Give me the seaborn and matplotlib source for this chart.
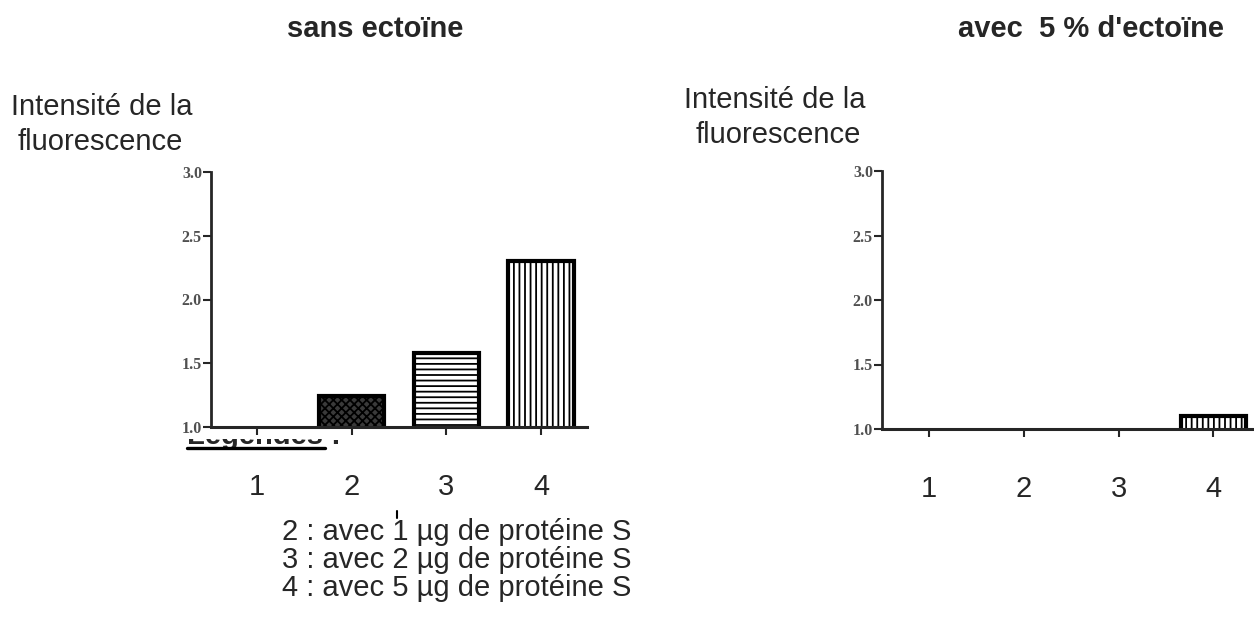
import pandas as pd
import matplotlib.pyplot as plt
from matplotlib.lines import Line2D
from matplotlib.patches import Rectangle
import seaborn as sns

sns.set_style("ticks")
plt.rcParams['font.family'] = ['Liberation Sans', 'DejaVu Sans']
plt.rcParams['hatch.linewidth'] = 1.3

echantillons = ['1', '2', '3', '4']
sans_ectoine = [1.0, 1.24, 1.58, 2.30]
avec_ectoine = [1.0, 1.0, 1.0, 1.10]
motifs_sans = ['', 'xxxx', '---', '|||']
motifs_avec = ['', '', '', '|||']
fonds_sans = ['white', '#3a3a3a', 'white', 'white']
fonds_avec = ['white', 'white', 'white', 'white']
graduations = [1.0, 1.5, 2.0, 2.5, 3.0]
titres = ['sans ectoïne', "avec  5 % d'ectoïne"]
ylabel = ['Intensité de la', 'fluorescence']
legendes = ['2 : avec 1 µg de protéine S',
            '3 : avec 2 µg de protéine S',
            '4 : avec 5 µg de protéine S']

W, H = 1254, 617
fig = plt.figure(figsize=(W / 100, H / 100), dpi=100)


def box(x0, y0, x1, y1):
    return [x0 / W, 1 - y1 / H, (x1 - x0) / W, (y1 - y0) / H]


def graphe(ax, valeurs, motifs, fonds, xlim):
    df = pd.DataFrame({'ech': echantillons, 'val': valeurs})
    sns.barplot(data=df, x='ech', y='val', ax=ax, color='white', saturation=1,
                edgecolor='black', linewidth=3, width=0.69)
    for p, h, f, v in zip(ax.patches, motifs, fonds, valeurs):
        p.set_hatch(h)
        p.set_facecolor(f)
        if v <= 1.0:
            p.set_edgecolor('none')
    ax.set_ylim(1, 3)
    ax.set_xlim(*xlim)
    ax.set_yticks(graduations)
    ax.set_yticklabels([f'{g:.1f}' for g in graduations], family='Liberation Serif',
                       fontweight='bold', fontsize=11.5, color='#505050')
    ax.tick_params(axis='y', length=6, width=1.5, pad=0.5)
    ax.tick_params(axis='x', length=6, width=1.5, pad=27, labelsize=21)
    ax.set_xlabel('')
    ax.set_ylabel('')
    sns.despine(ax=ax)
    ax.spines['left'].set_linewidth(2)
    ax.spines['bottom'].set_linewidth(2.2)
    ax.set_zorder(5)


axL = fig.add_axes(box(211, 172, 587, 427))
graphe(axL, sans_ectoine, motifs_sans, fonds_sans, (-0.486, 3.485))
axR = fig.add_axes(box(882, 171, 1254, 429))
graphe(axR, avec_ectoine, motifs_avec, fonds_avec, (-0.496, 3.43))

fig.text(287 / W, 1 - 37 / H, titres[0], fontsize=21, fontweight='bold', va='baseline')
fig.text(958 / W, 1 - 37 / H, titres[1], fontsize=21, fontweight='bold', va='baseline')

fig.text(102 / W, 1 - 115 / H, ylabel[0], fontsize=21, ha='center', va='baseline')
fig.text(100 / W, 1 - 150 / H, ylabel[1], fontsize=21, ha='center', va='baseline')
fig.text(775 / W, 1 - 108 / H, ylabel[0], fontsize=21, ha='center', va='baseline')
fig.text(778 / W, 1 - 143 / H, ylabel[1], fontsize=21, ha='center', va='baseline')

# "Légendes :" à moitié caché sous le graphique
fig.text(187 / W, 1 - 444 / H, 'Légendes :', fontsize=21, fontweight='bold',
         va='baseline', zorder=1)
fig.add_artist(Line2D([187 / W, 325 / W], [1 - 448 / H] * 2, lw=2.4, color='black',
                      transform=fig.transFigure, zorder=1.5))
fig.add_artist(Rectangle((150 / W, 1 - 439 / H), 450 / W, 139 / H, transform=fig.transFigure,
                         facecolor='white', edgecolor='none', zorder=2))
fig.add_artist(Line2D([397 / W] * 2, [1 - 511 / H, 1 - 518 / H], lw=1.5, color='black',
                      transform=fig.transFigure))

for i, t in enumerate(legendes):
    fig.text(282 / W, 1 - (540 + 28 * i) / H, t, fontsize=21, va='baseline')

fig.savefig('out.png', dpi=100)
